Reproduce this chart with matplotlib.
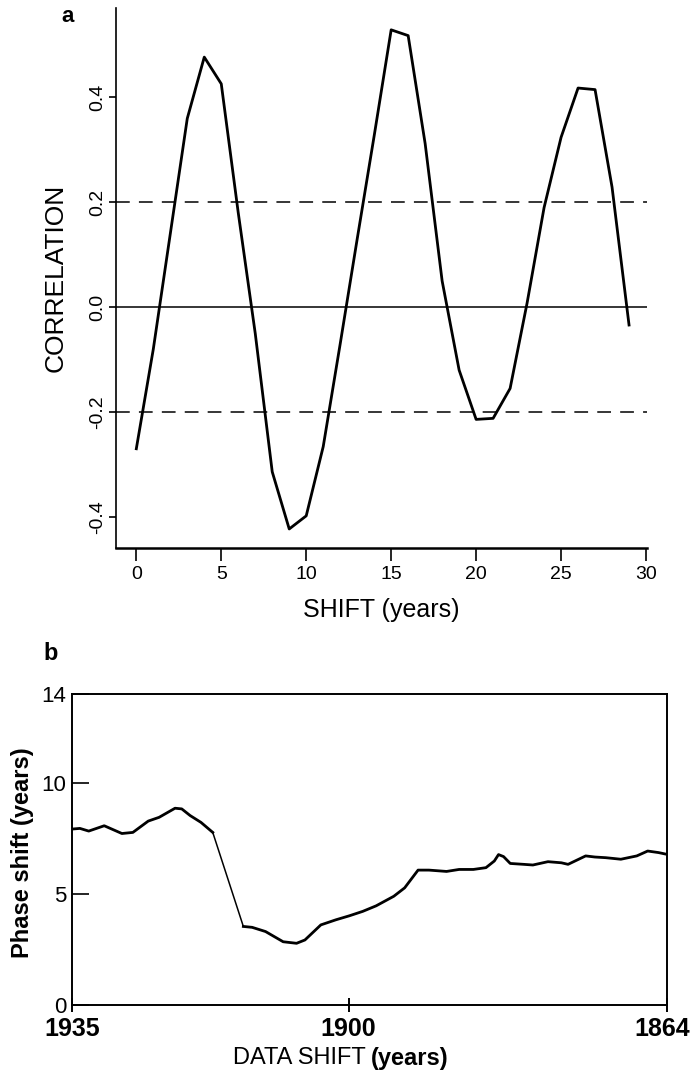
import matplotlib
matplotlib.use("Agg")
import matplotlib.pyplot as plt
from matplotlib.transforms import ScaledTranslation

plt.rcParams["font.family"] = ["Liberation Sans", "DejaVu Sans"]

# panel a: correlation vs shift
shift = list(range(30))
corr = [-0.27, -0.08, 0.14, 0.36, 0.477, 0.426, 0.18, -0.05, -0.314, -0.423,
        -0.398, -0.266, -0.07, 0.13, 0.327, 0.529, 0.518, 0.312, 0.05, -0.12,
        -0.214, -0.212, -0.155, 0.008, 0.19, 0.324, 0.418, 0.415, 0.229, -0.034]
corr_ticks = [-0.4, -0.2, 0.0, 0.2, 0.4]
shift_ticks = [0, 5, 10, 15, 20, 25, 30]

# panel b: phase shift vs data shift
data_shift = [0, 0.95, 2.0, 3.85, 5.96, 7.27, 9.1, 10.4, 12.3, 13.1, 14.1, 15.4, 16.8,
              20.45, 21.5, 23.1, 25.2, 26.8, 27.8, 29.7, 31.5, 33.1, 34.7, 36.3,
              38.4, 39.7, 41.3, 42.6, 44.7, 46.2, 47.9, 49.4, 50.4, 50.9, 51.5,
              52.3, 53.9, 55.0, 56.8, 58.4, 59.2, 61.3, 62.4, 63.7, 65.5, 67.4,
              68.7, 70.0, 71.0]
phase = [7.91, 7.94, 7.82, 8.06, 7.71, 7.76, 8.27, 8.44, 8.85, 8.82, 8.52, 8.21, 7.76,
         3.52, 3.48, 3.29, 2.83, 2.76, 2.91, 3.59, 3.82, 4.0, 4.2, 4.45,
         4.88, 5.26, 6.06, 6.06, 6.0, 6.09, 6.09, 6.17, 6.47, 6.76, 6.67,
         6.36, 6.32, 6.29, 6.44, 6.39, 6.32, 6.70, 6.65, 6.62, 6.55, 6.70,
         6.92, 6.85, 6.77]
year_ticks = [0, 33, 71]
year_labels = ["1935", "1900", "1864"]
phase_ticks = [0, 5, 10, 14]

fig = plt.figure(figsize=(6.9, 10.7), dpi=100)

# ---- panel a
ax1 = fig.add_axes([0.168, 0.488, 0.770, 0.5042])
ax1.plot(shift, corr, color="black", lw=2.0)
ax1.axhline(0, color="black", lw=1.1)
ax1.axhline(0.2, color="black", lw=1.1, dashes=(9, 6))
ax1.axhline(-0.2, color="black", lw=1.1, dashes=(9, 6))
ax1.set_xlim(-1.2, 30.07)
ax1.set_ylim(-0.459, 0.57)
ax1.set_xticks(shift_ticks)
ax1.set_yticks(corr_ticks)
ax1.set_yticklabels(["%.1f" % v for v in corr_ticks], rotation=90, va="center")
ax1.spines["top"].set_visible(False)
ax1.spines["right"].set_visible(False)
ax1.spines["left"].set_linewidth(1.2)
ax1.spines["bottom"].set_linewidth(1.8)
ax1.tick_params(axis="x", direction="out", length=9, width=1.2, labelsize=14, pad=4)
ax1.tick_params(axis="y", direction="out", length=5, width=1.2, labelsize=14, pad=2)
fig.text(0.081, 1 - 278 / 1070, "CORRELATION", rotation=90, ha="center", va="center", fontsize=19)
fig.text(381 / 690, 1 - 610 / 1070, "SHIFT (years)", ha="center", va="center", fontsize=18)
fig.text(68 / 690, 1 - 16 / 1070, "a", ha="center", va="center", fontsize=16, fontweight="bold")

# ---- panel b
ax2 = fig.add_axes([0.1043, 0.0612, 0.8623, 0.2902])
ax2.plot(data_shift[:13], phase[:13], color="black", lw=2.0)
ax2.plot(data_shift[12:14], phase[12:14], color="black", lw=1.1)
ax2.plot(data_shift[13:], phase[13:], color="black", lw=2.0)
ax2.set_xlim(0, 71)
ax2.set_ylim(0, 14)
ax2.set_xticks(year_ticks)
ax2.set_xticklabels(year_labels, fontweight="bold", fontsize=18)
ax2.set_yticks(phase_ticks)
for s in ax2.spines.values():
    s.set_linewidth(1.4)
ax2.tick_params(axis="x", direction="inout", length=10, width=1.4, pad=4)
ax2.tick_params(axis="y", direction="in", length=12, width=1.2, labelsize=16, pad=4)
# nudge the last year label left so it stays inside the figure
last = ax2.get_xticklabels()[-1]
last.set_transform(last.get_transform() + ScaledTranslation(-5 / 100, 0, fig.dpi_scale_trans))
fig.text(23 / 690, 1 - 853 / 1070, "Phase shift (years)", rotation=90, ha="center", va="center",
         fontsize=17, fontweight="bold")
fig.text(366 / 690, 1 - 1058 / 1070, "DATA SHIFT", ha="right", va="center", fontsize=17)
fig.text(371 / 690, 1 - 1058 / 1070, "(years)", ha="left", va="center", fontsize=17, fontweight="bold")
fig.text(51 / 690, 1 - 653 / 1070, "b", ha="center", va="center", fontsize=17, fontweight="bold")

fig.savefig("out.png", dpi=100)
